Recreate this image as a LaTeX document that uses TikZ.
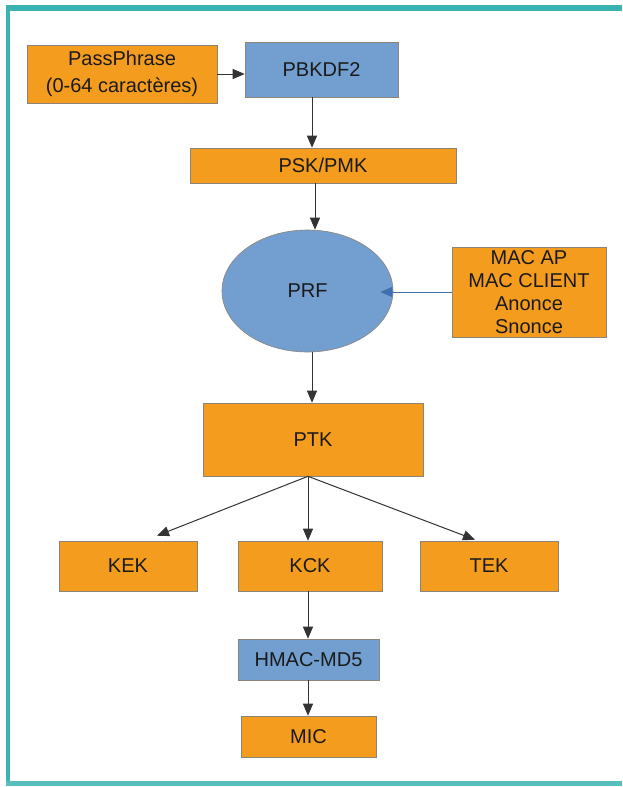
\documentclass[tikz,border=0pt]{standalone}
\usepackage{fontspec}
\setmainfont{Liberation Sans}
\usetikzlibrary{arrows.meta,shapes.geometric}

\definecolor{boxorange}{HTML}{F39C1E}
\definecolor{boxblue}{HTML}{729FCF}
\definecolor{frameteal}{HTML}{3BB3AF}
\definecolor{linkblue}{HTML}{3F6FAF}
\definecolor{inkgray}{HTML}{1A1A1A}
\definecolor{edgegray}{HTML}{8C8478}

\tikzset{
  box/.style={draw=edgegray, line width=0.6pt, inner sep=0pt, text=inkgray,
    font=\fontsize{20}{23}\selectfont, align=center},
  obox/.style={box, fill=boxorange},
  bbox/.style={box, fill=boxblue},
  arr/.style={draw=black!80, line width=1pt,
    -{Triangle[length=12pt,width=10pt]}},
  barr/.style={draw=linkblue, line width=1pt,
    -{Triangle[length=12pt,width=10pt]}}
}

\begin{document}
\begin{tikzpicture}[x=1pt,y=-1pt]
  % page and frame
  \fill[white] (0,0) rectangle (622,787);
  \useasboundingbox (0,0) rectangle (622,787);
  \fill[frameteal] (6,5) rectangle (622,11);
  \fill[frameteal] (6,5) rectangle (10,786);
  \fill[frameteal!85] (6,781) rectangle (622,786);

  % key derivation chain
  \node[obox, minimum width=190pt, minimum height=58pt,
        font=\fontsize{20}{27}\selectfont] (pass) at (122,74)
        {PassPhrase\\(0-64 caractères)};
  \node[bbox, minimum width=153pt, minimum height=55pt] (pbk) at (321.5,69.5) {PBKDF2};
  \node[obox, minimum width=266pt, minimum height=35pt] (psk) at (323,165.5) {PSK/PMK};
  \node[bbox, ellipse, minimum width=171pt, minimum height=122pt] (prf) at (307.5,291) {PRF};
  \node[obox, minimum width=154pt, minimum height=90pt] (mac) at (529,292)
        {MAC AP\\MAC CLIENT\\Anonce\\Snonce};
  \node[obox, minimum width=220pt, minimum height=73pt] (ptk) at (313,439.5) {PTK};
  \node[obox, minimum width=138pt, minimum height=50pt] (kek) at (128,566) {KEK};
  \node[obox, minimum width=144pt, minimum height=50pt] (kck) at (310,566) {KCK};
  \node[obox, minimum width=138pt, minimum height=50pt] (tek) at (489,566) {TEK};
  \node[bbox, minimum width=141pt, minimum height=41pt] (hmac) at (308.5,659.5) {HMAC-MD5};
  \node[obox, minimum width=135pt, minimum height=41pt] (mic) at (308.5,736.5) {MIC};

  % connector anchors
  \coordinate (pbkout) at ([xshift=-9.5pt]pbk.south);
  \coordinate (pskout) at ([xshift=-8pt]psk.south);
  \coordinate (prfin) at ([xshift=-13pt]prf.east);
  \coordinate (prfout) at ([xshift=4.5pt]prf.south);
  \coordinate (ptkout) at ([xshift=-5pt]ptk.south);
  \coordinate (kekin) at ([xshift=29pt,yshift=5pt]kek.north);
  \coordinate (tekin) at ([xshift=-14pt,yshift=1pt]tek.north);
  \coordinate (kckout) at ([xshift=-2pt]kck.south);
  \coordinate (hmacout) at ([xshift=-0.5pt]hmac.south);

  % connectors
  \draw[arr] (pass.east) -- (pass.east -| pbk.west);
  \draw[arr] (pbkout) -- (pbkout |- psk.north);
  \draw[arr] (pskout) -- (pskout |- prf.north);
  \draw[barr] (mac.west) -- (mac.west -| prfin);
  \draw[arr] (prfout) -- (prfout |- ptk.north);
  \draw[arr] (ptkout) -- (kekin);
  \draw[arr] (ptkout) -- (ptkout |- kck.north);
  \draw[arr] (ptkout) -- (tekin);
  \draw[arr] (kckout) -- (kckout |- hmac.north);
  \draw[arr] (hmacout) -- (hmacout |- mic.north);
\end{tikzpicture}
\end{document}
